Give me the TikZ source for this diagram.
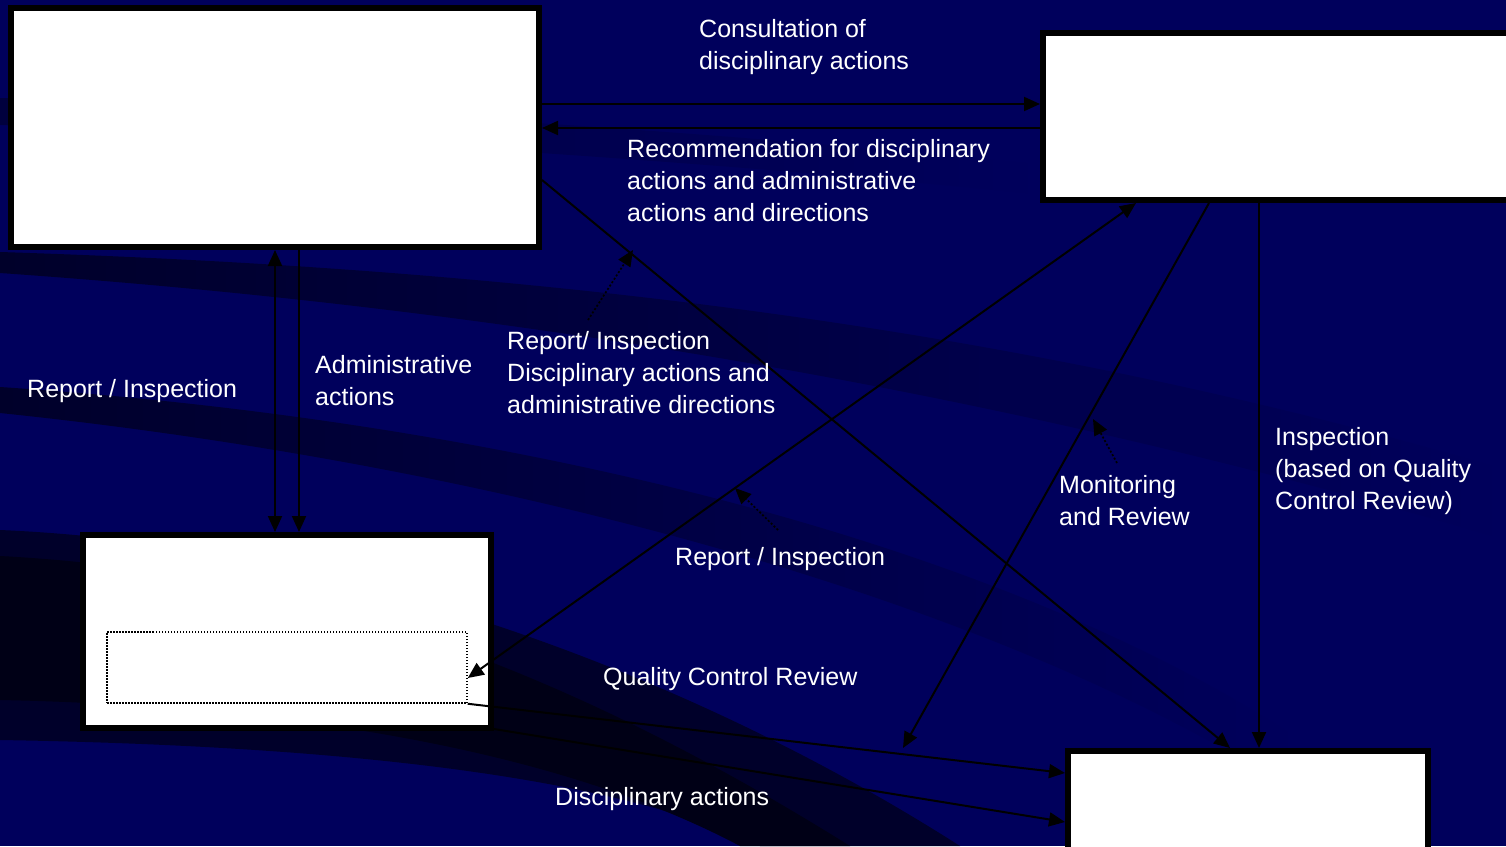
\documentclass[tikz,border=0pt]{standalone}
\usepackage{fontspec}
\setmainfont{Liberation Sans}
\usetikzlibrary{arrows.meta}
\definecolor{navy}{RGB}{0,0,92}
\definecolor{bandA}{RGB}{0,0,62}
\definecolor{bandB}{RGB}{0,0,42}
\definecolor{bandC}{RGB}{0,0,22}
\begin{document}
\begin{tikzpicture}[x=1pt,y=-1pt,
  box/.style={draw=black, fill=white, line width=6pt, inner sep=0pt},
  subbox/.style={draw=black, fill=white, line width=1.5pt, dash pattern=on 1.5pt off 1.5pt, inner sep=0pt},
  flow/.style={draw=black, line width=2pt, -{Triangle[length=16pt,width=14pt]}},
  flowboth/.style={draw=black, line width=2pt, {Triangle[length=16pt,width=14pt]}-{Triangle[length=16pt,width=14pt]}},
  lead/.style={draw=black, line width=1.7pt, dash pattern=on 2pt off 2pt, -{Triangle[length=16pt,width=14pt]}},
  lbl/.style={text=white, font=\fontsize{25}{32}\selectfont, align=left, anchor=base west, inner sep=0pt}]

% canvas
\useasboundingbox (0,0) rectangle (1506,846);
\clip (0,0) rectangle (1506,846);
\fill[navy] (0,0) rectangle (1506,846);

% dark swooshes behind the chart
\shade[left color=bandA, right color=navy]
  (0,98) .. controls (300,105) and (700,130) .. (1045,165) -- (1045,195)
  .. controls (700,160) and (300,135) .. (0,125) -- cycle;
\shade[left color=bandB, right color=navy]
  (0,252) .. controls (500,268) and (1000,320) .. (1506,470) -- (1506,540)
  .. controls (1000,390) and (500,308) .. (0,273) -- cycle;
\shade[left color=bandB, right color=navy]
  (0,387) .. controls (500,420) and (1000,540) .. (1300,740) -- (1300,795)
  .. controls (1000,600) and (500,465) .. (0,413) -- cycle;
\fill[bandB]
  (0,530) .. controls (350,545) and (700,680) .. (960,846) -- (760,846)
  .. controls (600,770) and (300,745) .. (0,740) -- cycle;
\fill[bandC]
  (0,556) .. controls (300,572) and (560,665) .. (850,846) -- (740,846)
  .. controls (540,740) and (250,705) .. (0,700) -- cycle;

% boxes
\node[box, minimum width=528pt, minimum height=239pt] (A) at (275,127.5) {};
\node[box, minimum width=517pt, minimum height=167pt] (B) at (1301.5,116.5) {};
\node[box, minimum width=408pt, minimum height=193pt] (C) at (287,631.5) {};
\node[box, minimum width=360pt, minimum height=149pt] (D) at (1248,825.5) {};
\node[subbox, minimum width=360pt, minimum height=71pt] (E) at (287,667.5) {};

% connectors
\draw[flow] (A.east |- 0,104) -- (B.west |- 0,104);
\draw[flow] (B.west |- 0,128) -- (A.east |- 0,128);
\draw[flowboth] (A.south -| 275,0) -- (C.north -| 275,0);
\draw[flow] (A.south -| 299,0) -- (C.north -| 299,0);
\draw[flow] (A.east |- 0,180) -- (D.north -| 1230,0);
\draw[flowboth] (E.east |- 0,678) -- (B.south -| 1136,0);
\coordinate (mr) at (903,748);
\draw[flow] (B.south -| 1209,0) -- (mr);
\draw[flow] (B.south -| 1259,0) -- (D.north -| 1259,0);
\draw[flow] (E.south east) -- (D.west |- 0,773);
\draw[flow] (C.east |- 0,729) -- (D.west |- 0,822);

% labels (anchored at the baseline of their last line)
\node[lbl] (l1) at (699,69) {Consultation of\\disciplinary actions};
\node[lbl] (l2) at (627,221) {Recommendation for disciplinary\\actions and administrative\\actions and directions};
\node[lbl] (l3) at (27,397) {Report / Inspection};
\node[lbl] (l4) at (315,405) {Administrative\\actions};
\node[lbl] (l5) at (507,413) {Report/ Inspection\\Disciplinary actions and\\administrative directions};
\node[lbl] (l6) at (675,565) {Report / Inspection};
\node[lbl] (l7) at (1059,525) {Monitoring\\and Review};
\node[lbl] (l8) at (1275,509) {Inspection\\(based on Quality\\Control Review)};
\node[lbl] (l9) at (603,685) {Quality Control Review};
\node[lbl] (l10) at (555,805) {Disciplinary actions};

% label leaders
\coordinate (t5) at (588,320);  \coordinate (h5) at (633,250);
\coordinate (t6) at (778,530);  \coordinate (h6) at (735,488);
\coordinate (t7) at (1117,463); \coordinate (h7) at (1093,419);
\draw[lead] (t5) -- (h5);
\draw[lead] (t6) -- (h6);
\draw[lead] (t7) -- (h7);
\end{tikzpicture}
\end{document}
